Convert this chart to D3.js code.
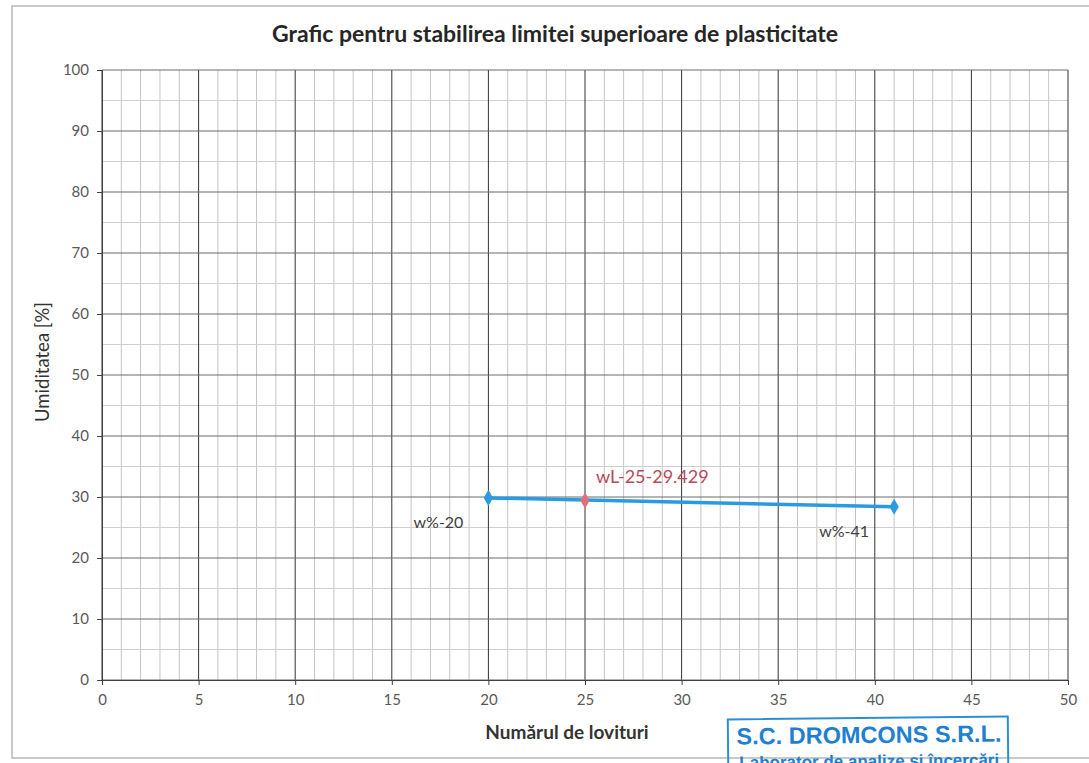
<!DOCTYPE html>
<html>
<head>
<meta charset="utf-8">
<script src="https://cdn.jsdelivr.net/npm/d3@7"></script>
<style>
  body { margin: 0; background: #fff; }
  svg { display: block; }
</style>
</head>
<body>
<div id="chart"></div>
<script>
// data
var blows = [20, 41];
var moisture = [29.85, 28.4];
var pointLabels = ["w%-20", "w%-41"];
var limitBlows = 25;
var limitMoisture = 29.429;
var limitLabel = "wL-25-29.429";
var xTicks = [0, 5, 10, 15, 20, 25, 30, 35, 40, 45, 50];
var yTicks = [0, 10, 20, 30, 40, 50, 60, 70, 80, 90, 100];

var width = 1089, height = 763;
var margin = {left: 102, right: 21, top: 70, bottom: 83};
var font = "Lato, 'Open Sans', sans-serif";

var svg = d3.select("#chart").append("svg")
    .attr("width", width)
    .attr("height", height);

// outer chart frame (right side runs off the page)
svg.append("rect")
    .attr("x", 12).attr("y", 6)
    .attr("width", 1100).attr("height", 752)
    .attr("fill", "none")
    .attr("stroke", "#a6a6a6")
    .attr("stroke-width", 1.2);

var x = d3.scaleLinear().domain([0, 50]).range([margin.left, width - margin.right]);
var y = d3.scaleLinear().domain([0, 100]).range([height - margin.bottom, margin.top]);

var grid = svg.append("g");

// minor grid
grid.selectAll(".vminor")
    .data(d3.range(0, 51, 1).filter(function (d) { return d % 5 !== 0; }))
    .enter().append("line")
    .attr("x1", function (d) { return x(d); })
    .attr("x2", function (d) { return x(d); })
    .attr("y1", y(0)).attr("y2", y(100))
    .attr("stroke", "#c4c4c4").attr("stroke-width", 1);

grid.selectAll(".hminor")
    .data(d3.range(5, 100, 10))
    .enter().append("line")
    .attr("x1", x(0)).attr("x2", x(50))
    .attr("y1", function (d) { return y(d); })
    .attr("y2", function (d) { return y(d); })
    .attr("stroke", "#cfcfcf").attr("stroke-width", 1);

// major grid
grid.selectAll(".vmajor")
    .data(xTicks)
    .enter().append("line")
    .attr("x1", function (d) { return x(d); })
    .attr("x2", function (d) { return x(d); })
    .attr("y1", y(0)).attr("y2", y(100))
    .attr("stroke", "#333").attr("stroke-width", 1);

grid.selectAll(".hmajor")
    .data(yTicks)
    .enter().append("line")
    .attr("x1", x(0)).attr("x2", x(50))
    .attr("y1", function (d) { return y(d); })
    .attr("y2", function (d) { return y(d); })
    .attr("stroke", "#6a6a6a").attr("stroke-width", 1);

// axes
var xAxis = svg.append("g")
    .attr("transform", "translate(0," + y(0) + ")")
    .call(d3.axisBottom(x).tickValues(xTicks).tickSize(5).tickPadding(9));
var yAxis = svg.append("g")
    .attr("transform", "translate(" + x(0) + ",0)")
    .call(d3.axisLeft(y).tickValues(yTicks).tickSize(5).tickPadding(8));

[xAxis, yAxis].forEach(function (a) {
    a.select(".domain").attr("stroke", "#404040");
    a.selectAll(".tick line").attr("stroke", "#404040");
    a.selectAll("text")
        .attr("fill", "#595959")
        .style("font-family", font)
        .style("font-size", "15px");
});

// series line
var line = d3.line()
    .x(function (d) { return x(d[0]); })
    .y(function (d) { return y(d[1]); });

var pts = blows.map(function (b, i) { return [b, moisture[i]]; });

svg.append("path")
    .datum(pts)
    .attr("d", line)
    .attr("fill", "none")
    .attr("stroke", "#2a9be0")
    .attr("stroke-width", 3.5);

var diamond = d3.symbol().type(d3.symbolDiamond).size(75);

svg.selectAll(".pt")
    .data(pts)
    .enter().append("path")
    .attr("d", diamond)
    .attr("transform", function (d) { return "translate(" + x(d[0]) + "," + y(d[1]) + ")"; })
    .attr("fill", "#2a9be0");

svg.append("path")
    .attr("d", diamond)
    .attr("transform", "translate(" + x(limitBlows) + "," + y(limitMoisture) + ")")
    .attr("fill", "#e0707c");

// data labels
svg.selectAll(".lbl")
    .data(pts)
    .enter().append("text")
    .attr("x", function (d) { return x(d[0]) - 25; })
    .attr("y", function (d) { return y(d[1]) + 30; })
    .attr("text-anchor", "end")
    .attr("fill", "#404040")
    .style("font-family", font)
    .style("font-size", "16px")
    .text(function (d, i) { return pointLabels[i]; });

svg.append("text")
    .attr("x", x(limitBlows) + 11)
    .attr("y", y(limitMoisture) - 17)
    .attr("fill", "#b8495e")
    .style("font-family", font)
    .style("font-size", "18px")
    .text(limitLabel);

// titles
svg.append("text")
    .attr("x", 555).attr("y", 42)
    .attr("text-anchor", "middle")
    .attr("fill", "#262626")
    .style("font-family", font)
    .style("font-weight", "bold")
    .style("font-size", "23px")
    .text("Grafic pentru stabilirea limitei superioare de plasticitate");

svg.append("text")
    .attr("x", 567).attr("y", 739)
    .attr("text-anchor", "middle")
    .attr("fill", "#333")
    .style("font-family", font)
    .style("font-weight", "bold")
    .style("font-size", "19px")
    .text("Numărul de lovituri");

svg.append("text")
    .attr("transform", "translate(49,362) rotate(-90)")
    .attr("text-anchor", "middle")
    .attr("fill", "#333")
    .style("font-family", font)
    .style("font-size", "18.5px")
    .text("Umiditatea [%]");

// lab stamp at the bottom, cut by the page edge as in the scan
var stamp = svg.append("g").attr("transform", "rotate(-0.6, 868, 740)");
stamp.append("rect")
    .attr("x", 728).attr("y", 718)
    .attr("width", 280).attr("height", 60)
    .attr("fill", "none")
    .attr("stroke", "#2b8fd6")
    .attr("stroke-width", 2);
stamp.append("text")
    .attr("x", 869).attr("y", 743)
    .attr("text-anchor", "middle")
    .attr("fill", "#1f7fd0")
    .style("font-family", "'Liberation Sans', Arial, sans-serif")
    .style("font-weight", "bold")
    .style("font-size", "23.5px")
    .text("S.C. DROMCONS S.R.L.");
stamp.append("text")
    .attr("x", 869).attr("y", 767)
    .attr("text-anchor", "middle")
    .attr("fill", "#1f7fd0")
    .style("font-family", "'Liberation Sans', Arial, sans-serif")
    .style("font-weight", "bold")
    .style("font-size", "17px")
    .text("Laborator de analize şi încercări");
</script>
</body>
</html>
